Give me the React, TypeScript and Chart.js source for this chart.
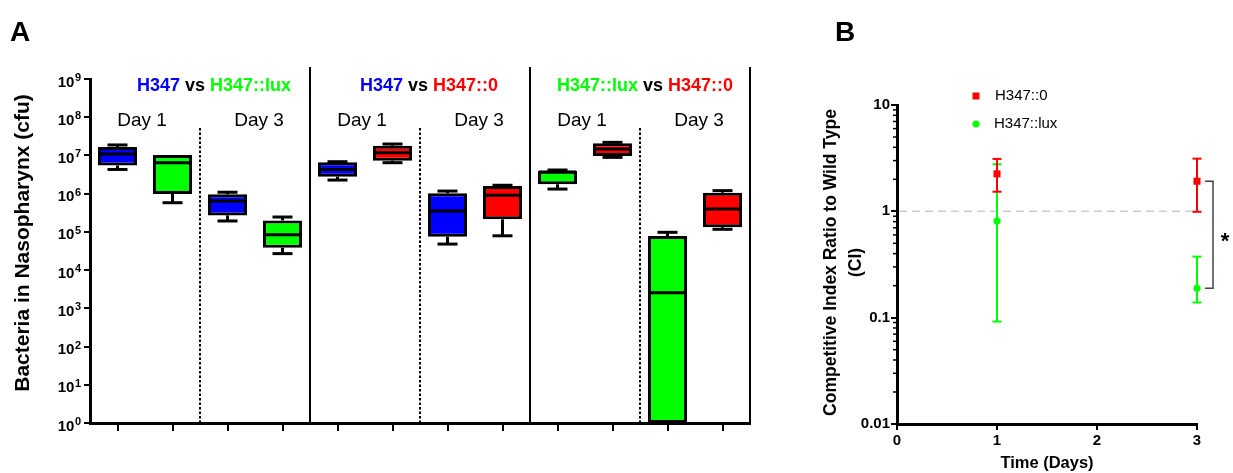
import React, { useEffect, useRef } from 'react';
import { Chart, registerables } from 'chart.js';

Chart.register(...registerables);

const FONT = '"Liberation Sans", Arial, Helvetica, sans-serif';
Chart.defaults.font.family = FONT;
Chart.defaults.color = '#000';

// ---------- Panel A data (box plots, cfu) ----------
const boxCategories = [
  'H347 Day 1 (vs lux)', 'H347::lux Day 1', 'H347 Day 3 (vs lux)', 'H347::lux Day 3',
  'H347 Day 1 (vs 0)', 'H347::0 Day 1', 'H347 Day 3 (vs 0)', 'H347::0 Day 3',
  'H347::lux Day 1 (vs 0)', 'H347::0 Day 1 (vs lux)', 'H347::lux Day 3 (vs 0)', 'H347::0 Day 3 (vs lux)',
];
const boxStrains = ['H347', 'H347::lux', 'H347', 'H347::lux', 'H347', 'H347::0', 'H347', 'H347::0', 'H347::lux', 'H347::0', 'H347::lux', 'H347::0'];
const boxMin = [4.3e6, 5.8e5, 1.93e5, 2.7e4, 2.27e6, 6.46e6, 4.8e4, 7.9e4, 1.32e6, 8.9e6, 1, 1.17e5];
const boxQ1 = [5.46e6, 9.8e5, 2.7e5, 3.85e4, 2.78e6, 7.3e6, 7.5e4, 2.13e5, 1.76e6, 9.7e6, 1, 1.32e5];
const boxMedian = [1.09e7, 6.45e6, 6.4e5, 8.4e4, 4.3e6, 1.18e7, 3.5e5, 9.06e5, 3.7e6, 1.47e7, 2.57e3, 3.97e5];
const boxQ3 = [1.66e7, 1.03e7, 9.6e5, 2.0e5, 6.6e6, 1.8e7, 1.02e6, 1.58e6, 4.0e6, 2.08e7, 7.8e4, 1.06e6];
const boxMax = [1.88e7, 1.03e7, 1.09e6, 2.45e5, 6.86e6, 1.99e7, 1.17e6, 1.66e6, 4.16e6, 2.2e7, 9.75e4, 1.2e6];
const dayLabels = ['Day 1', 'Day 3'];
const comparisonTitles = [
  ['H347', 'H347::lux'],
  ['H347', 'H347::0'],
  ['H347::lux', 'H347::0'],
];
const yExponentsA = [0, 1, 2, 3, 4, 5, 6, 7, 8, 9];
const yTitleA = 'Bacteria in Nasopharynx (cfu)';

// ---------- Panel B data (competitive index) ----------
const days = [1, 3];
const ciH347_0 = [2.25, 1.92];
const ciH347_0Upper = [3.11, 3.13];
const ciH347_0Lower = [1.53, 0.99];
const ciLux = [0.81, 0.189];
const ciLuxUpper = [2.77, 0.375];
const ciLuxLower = [0.092, 0.139];
const yTicksB = [0.01, 0.1, 1, 10];
const yTickLabelsB = ['0.01', '0.1', '1', '10'];
const xTitleB = 'Time (Days)';
const yTitleB = ['Competitive Index Ratio to Wild Type', '(CI)'];
const seriesLabelsB = ['H347::0', 'H347::lux'];

const STRAIN_COLORS: Record<string, string> = {
  'H347': '#0000FF',
  'H347::lux': '#00FF00',
  'H347::0': '#FF0000',
};

// horizontal nudges of the comparison titles (px)
const TITLE_SHIFT = [14, 9, 5];

function line(ctx: CanvasRenderingContext2D, x1: number, y1: number, x2: number, y2: number) {
  ctx.beginPath();
  ctx.moveTo(x1, y1);
  ctx.lineTo(x2, y2);
  ctx.stroke();
}

const boxPlugin = {
  id: 'boxExtras',
  afterDatasetsDraw(chart: any) {
    const { ctx, chartArea } = chart;
    const y = chart.scales.y;
    const meta = chart.getDatasetMeta(0);
    ctx.save();
    ctx.strokeStyle = '#000';
    ctx.lineWidth = 3;
    ctx.lineCap = 'butt';
    const clip = (v: number) => Math.min(chartArea.bottom, y.getPixelForValue(v));
    meta.data.forEach((bar: any, i: number) => {
      const { x: cx, width } = bar.getProps(['x', 'width'], true);
      const half = width / 2;
      const yMed = clip(boxMedian[i]);
      const yQ1 = clip(boxQ1[i]);
      const yQ3 = clip(boxQ3[i]);
      const yMin = clip(boxMin[i]);
      const yMax = clip(boxMax[i]);
      line(ctx, cx - half + 1, yMed, cx + half - 1, yMed);
      if (yMin > yQ1 + 0.5) {
        line(ctx, cx, yQ1, cx, yMin);
        line(ctx, cx - 10, yMin, cx + 10, yMin);
      }
      if (yMax < yQ3 - 0.5) {
        line(ctx, cx, yQ3, cx, yMax);
        line(ctx, cx - 10, yMax, cx + 10, yMax);
      }
    });
    ctx.restore();
  },
  afterDraw(chart: any) {
    const { ctx, chartArea } = chart;
    const x = chart.scales.x;
    const y = chart.scales.y;
    ctx.save();
    const px = (i: number) => x.getPixelForValue(i);
    const boundary = (i: number) => (i >= boxCategories.length ? chartArea.right : (px(i - 1) + px(i)) / 2);

    // separators
    ctx.strokeStyle = '#000';
    ctx.lineWidth = 2;
    for (let g = 0; g < comparisonTitles.length; g++) {
      const dx = boundary(g * 4 + 2);
      ctx.setLineDash([2.5, 2]);
      line(ctx, dx, 128, dx, chartArea.bottom);
      ctx.setLineDash([]);
      const sx = boundary(g * 4 + 4);
      line(ctx, sx, 67, sx, chartArea.bottom);
    }

    // comparison titles
    ctx.textBaseline = 'middle';
    ctx.textAlign = 'left';
    ctx.font = `bold 18px ${FONT}`;
    comparisonTitles.forEach((pair, g) => {
      const parts = [
        { t: pair[0], c: STRAIN_COLORS[pair[0]] },
        { t: ' vs ', c: '#000' },
        { t: pair[1], c: STRAIN_COLORS[pair[1]] },
      ];
      const total = parts.reduce((s, p) => s + ctx.measureText(p.t).width, 0);
      const center = (px(g * 4) + px(g * 4 + 3)) / 2 + TITLE_SHIFT[g];
      let cur = center - total / 2;
      parts.forEach((p) => {
        ctx.fillStyle = p.c;
        ctx.fillText(p.t, cur, 86);
        cur += ctx.measureText(p.t).width;
      });
    });

    // day labels
    ctx.font = `19px ${FONT}`;
    ctx.fillStyle = '#000';
    ctx.textAlign = 'center';
    for (let g = 0; g < comparisonTitles.length; g++) {
      for (let d = 0; d < 2; d++) {
        const i = g * 4 + d * 2;
        const c = (px(i) + px(i + 1)) / 2 + (d === 0 ? -3 : 4);
        ctx.fillText(dayLabels[d], c, 121);
      }
    }

    // y tick labels with superscripts
    const axisX = chartArea.left;
    ctx.textBaseline = 'alphabetic';
    ctx.textAlign = 'right';
    yExponentsA.forEach((e) => {
      const yp = y.getPixelForValue(Math.pow(10, e));
      ctx.font = `bold 11px ${FONT}`;
      const sup = String(e);
      const sw = ctx.measureText(sup).width;
      ctx.fillText(sup, axisX - 9, yp + 2);
      ctx.font = `bold 15px ${FONT}`;
      ctx.fillText('10', axisX - 9 - sw - 0.5, yp + 7.5);
    });

    // y title
    ctx.save();
    ctx.translate(23, 243);
    ctx.rotate(-Math.PI / 2);
    ctx.font = `bold 21px ${FONT}`;
    ctx.textAlign = 'center';
    ctx.textBaseline = 'middle';
    ctx.fillText(yTitleA, 0, 0);
    ctx.restore();

    // panel letter
    ctx.font = `bold 28px ${FONT}`;
    ctx.textAlign = 'left';
    ctx.textBaseline = 'alphabetic';
    ctx.fillText('A', 10, 41);
    ctx.restore();
  },
};

const ciPlugin = {
  id: 'ciExtras',
  beforeDatasetsDraw(chart: any) {
    const { ctx, chartArea } = chart;
    const x = chart.scales.x;
    const y = chart.scales.y;
    ctx.save();
    // reference line at CI = 1
    ctx.strokeStyle = '#cccccc';
    ctx.lineWidth = 1.5;
    ctx.setLineDash([8, 5]);
    const y1 = y.getPixelForValue(1);
    line(ctx, chartArea.left + 2, y1, chartArea.right, y1);
    ctx.setLineDash([]);
    // error bars: green first, red on top
    const series = [
      { lo: ciLuxLower, hi: ciLuxUpper, c: '#00FF00' },
      { lo: ciH347_0Lower, hi: ciH347_0Upper, c: '#FF0000' },
    ];
    ctx.lineWidth = 2;
    series.forEach((s) => {
      ctx.strokeStyle = s.c;
      days.forEach((d, i) => {
        const xp = x.getPixelForValue(d);
        const yl = y.getPixelForValue(s.lo[i]);
        const yh = y.getPixelForValue(s.hi[i]);
        line(ctx, xp, yl, xp, yh);
        line(ctx, xp - 4.5, yl, xp + 4.5, yl);
        line(ctx, xp - 4.5, yh, xp + 4.5, yh);
      });
    });
    ctx.restore();
  },
  afterDraw(chart: any) {
    const { ctx, chartArea } = chart;
    const y = chart.scales.y;
    ctx.save();
    // minor ticks
    ctx.strokeStyle = '#000';
    ctx.lineWidth = 1.5;
    for (let d = 0; d < yTicksB.length - 1; d++) {
      for (let k = 2; k <= 9; k++) {
        const yp = y.getPixelForValue(yTicksB[d] * k);
        line(ctx, chartArea.left - 4, yp, chartArea.left, yp);
      }
    }
    // legend
    ctx.fillStyle = '#FF0000';
    ctx.fillRect(186 - 3.5, 96 - 3.5, 7, 7);
    ctx.fillStyle = '#00FF00';
    ctx.beginPath();
    ctx.arc(186, 124, 3.6, 0, Math.PI * 2);
    ctx.fill();
    ctx.fillStyle = '#000';
    ctx.font = `15px ${FONT}`;
    ctx.textAlign = 'left';
    ctx.textBaseline = 'middle';
    ctx.fillText(seriesLabelsB[0], 205, 96);
    ctx.fillText(seriesLabelsB[1], 204, 124);

    // significance bracket
    const yTop = y.getPixelForValue(ciH347_0[1]);
    const yBot = y.getPixelForValue(ciLux[1]);
    const bx = chartArea.right + 16;
    ctx.strokeStyle = '#444';
    ctx.lineWidth = 1.5;
    ctx.beginPath();
    ctx.moveTo(chartArea.right + 8, yTop);
    ctx.lineTo(bx, yTop);
    ctx.lineTo(bx, yBot);
    ctx.lineTo(chartArea.right + 8, yBot);
    ctx.stroke();
    ctx.fillStyle = '#000';
    ctx.font = `bold 22px ${FONT}`;
    ctx.textAlign = 'center';
    ctx.textBaseline = 'alphabetic';
    ctx.fillText('*', bx + 12, (yTop + yBot) / 2 + 13);

    // axis titles
    ctx.font = `bold 16.5px ${FONT}`;
    ctx.textBaseline = 'middle';
    ctx.fillText(xTitleB, (chartArea.left + chartArea.right) / 2, 463);
    ctx.save();
    ctx.translate(0, (chartArea.top + chartArea.bottom) / 2 - 2);
    ctx.rotate(-Math.PI / 2);
    ctx.font = `bold 17.5px ${FONT}`;
    ctx.fillText(yTitleB[0], 0, 41);
    ctx.fillText(yTitleB[1], 0, 66);
    ctx.restore();

    // panel letter
    ctx.font = `bold 28px ${FONT}`;
    ctx.textAlign = 'left';
    ctx.textBaseline = 'alphabetic';
    ctx.fillText('B', 45, 41);
    ctx.restore();
  },
};

export default function App() {
  const refA = useRef<HTMLCanvasElement>(null);
  const refB = useRef<HTMLCanvasElement>(null);

  useEffect(() => {
    const tickGrid = (len: number) => ({
      display: true,
      drawOnChartArea: false,
      drawTicks: true,
      tickLength: len,
      color: '#000',
      lineWidth: 2,
    });

    const chartA = new Chart(refA.current as HTMLCanvasElement, {
      type: 'bar',
      data: {
        labels: boxCategories,
        datasets: [
          {
            data: boxQ1.map((q, i) => [q, boxQ3[i]]) as any,
            backgroundColor: boxStrains.map((s) => STRAIN_COLORS[s]),
            borderColor: '#000',
            borderWidth: 3,
            borderSkipped: false,
            barPercentage: 0.71,
            categoryPercentage: 1,
          },
        ],
      },
      options: {
        animation: false,
        responsive: true,
        maintainAspectRatio: false,
        layout: { padding: { top: 79, right: 40, left: 0, bottom: 0 } },
        plugins: { legend: { display: false }, tooltip: { enabled: false } },
        scales: {
          x: {
            type: 'category',
            grid: { ...tickGrid(8), offset: false },
            border: { display: true, color: '#000', width: 3 },
            ticks: { display: false },
            afterFit: (s: any) => {
              s.height = 50;
            },
          },
          y: {
            type: 'logarithmic',
            min: 1,
            max: 1e9,
            grid: tickGrid(6),
            border: { display: true, color: '#000', width: 3 },
            ticks: { display: false },
            afterBuildTicks: (ax: any) => {
              ax.ticks = yExponentsA.map((e) => ({ value: Math.pow(10, e) }));
            },
            afterFit: (s: any) => {
              s.width = 90;
            },
          },
        },
      } as any,
      plugins: [boxPlugin],
    });

    const chartB = new Chart(refB.current as HTMLCanvasElement, {
      type: 'scatter',
      data: {
        datasets: [
          {
            label: seriesLabelsB[0],
            data: days.map((d, i) => ({ x: d, y: ciH347_0[i] })),
            pointStyle: 'rect',
            pointRadius: 5,
            backgroundColor: '#FF0000',
            borderColor: '#FF0000',
            borderWidth: 0,
            clip: false,
          },
          {
            label: seriesLabelsB[1],
            data: days.map((d, i) => ({ x: d, y: ciLux[i] })),
            pointStyle: 'circle',
            pointRadius: 3.6,
            backgroundColor: '#00FF00',
            borderColor: '#00FF00',
            borderWidth: 0,
            clip: false,
          },
        ],
      },
      options: {
        animation: false,
        responsive: true,
        maintainAspectRatio: false,
        layout: { padding: { top: 105, right: 36, left: 0, bottom: 0 } },
        plugins: { legend: { display: false }, tooltip: { enabled: false } },
        scales: {
          x: {
            type: 'linear',
            min: 0,
            max: 3,
            ticks: { stepSize: 1, font: { weight: 'bold', size: 15 }, color: '#000', padding: 2 },
            grid: tickGrid(6),
            border: { display: true, color: '#000', width: 3 },
            afterFit: (s: any) => {
              s.height = 49;
            },
          },
          y: {
            type: 'logarithmic',
            min: 0.01,
            max: 10,
            ticks: {
              font: { weight: 'bold', size: 15 },
              color: '#000',
              padding: 1,
              callback: (v: any) => {
                const idx = yTicksB.indexOf(Number(v));
                return idx >= 0 ? yTickLabelsB[idx] : '';
              },
            },
            afterBuildTicks: (ax: any) => {
              ax.ticks = yTicksB.map((v) => ({ value: v }));
            },
            grid: tickGrid(6),
            border: { display: true, color: '#000', width: 3 },
            afterFit: (s: any) => {
              s.width = 107;
            },
          },
        },
      } as any,
      plugins: [ciPlugin],
    });

    return () => {
      chartA.destroy();
      chartB.destroy();
    };
  }, []);

  return (
    <div style={{ position: 'fixed', left: 0, top: 0, width: 1233, height: 473, background: '#fff' }}>
      <div style={{ position: 'absolute', left: 0, top: 0, width: 790, height: 473 }}>
        <canvas ref={refA} />
      </div>
      <div style={{ position: 'absolute', left: 790, top: 0, width: 443, height: 473 }}>
        <canvas ref={refB} />
      </div>
    </div>
  );
}
